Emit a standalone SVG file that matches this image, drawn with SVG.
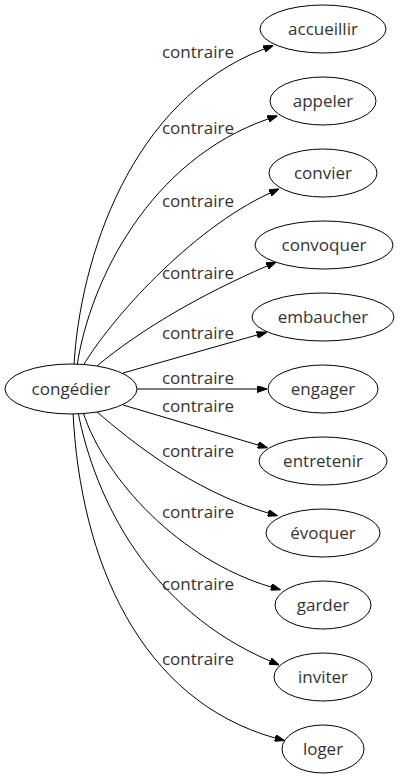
<svg xmlns="http://www.w3.org/2000/svg" width="400" height="779" viewBox="0 0 400 779">
<defs>
<style>
.node ellipse{fill:#fff;stroke:#000;stroke-width:1}
text{font-family:"Open Sans","DejaVu Sans",sans-serif;font-size:17px;fill:#333;text-anchor:middle}
.edges path{fill:none;stroke:#000;stroke-width:1;marker-end:url(#ah)}
</style>
<marker id="ah" viewBox="0 0 10 7" refX="0" refY="3.5" markerWidth="10" markerHeight="7" markerUnits="userSpaceOnUse" orient="auto">
<path d="M0,0 L10,3.5 L0,7 Z" fill="#000" stroke="#000"/>
</marker>
</defs>
<rect width="400" height="779" fill="#fff"/>
<g class="edges">
<path d="M74,365 C80,260 130,100 264,49"/>
<path d="M77,366 C90,280 150,160 268,119"/>
<path d="M83,366 C110,320 190,230 270,193"/>
<path d="M97,366 C140,330 200,295 267,266"/>
<path d="M123,373 L257,335"/>
<path d="M137,389 L257,389"/>
<path d="M123,405 L258,445"/>
<path d="M97,412 C130,440 190,490 268,513"/>
<path d="M83,412 C105,480 180,560 271,587"/>
<path d="M78,412 C95,500 150,610 270,661"/>
<path d="M73,412 C80,560 140,700 275,738"/>
<text x="198" y="58">contraire</text>
<text x="198" y="134">contraire</text>
<text x="198" y="207">contraire</text>
<text x="198" y="279">contraire</text>
<text x="198" y="339">contraire</text>
<text x="198" y="384">contraire</text>
<text x="198" y="412">contraire</text>
<text x="198" y="457">contraire</text>
<text x="198" y="518">contraire</text>
<text x="198" y="590">contraire</text>
<text x="198" y="665">contraire</text>
</g>
<g id="n0" class="node"><ellipse cx="71" cy="389" rx="66" ry="25"/><text x="71" y="395">congédier</text></g>
<g id="n1" class="node"><ellipse cx="323" cy="29" rx="63" ry="24"/><text x="323" y="35">accueillir</text></g>
<g id="n2" class="node"><ellipse cx="323" cy="101" rx="53" ry="24"/><text x="323" y="107">appeler</text></g>
<g id="n3" class="node"><ellipse cx="323" cy="173" rx="54" ry="24"/><text x="323" y="179">convier</text></g>
<g id="n4" class="node"><ellipse cx="324" cy="245" rx="69" ry="24"/><text x="324" y="251">convoquer</text></g>
<g id="n5" class="node"><ellipse cx="323" cy="317" rx="71" ry="24"/><text x="323" y="323">embaucher</text></g>
<g id="n6" class="node"><ellipse cx="323" cy="389" rx="55" ry="24"/><text x="323" y="395">engager</text></g>
<g id="n7" class="node"><ellipse cx="323" cy="461" rx="64" ry="24"/><text x="323" y="467">entretenir</text></g>
<g id="n8" class="node"><ellipse cx="323" cy="533" rx="57" ry="24"/><text x="323" y="539">évoquer</text></g>
<g id="n9" class="node"><ellipse cx="323" cy="605" rx="48" ry="24"/><text x="323" y="611">garder</text></g>
<g id="n10" class="node"><ellipse cx="323" cy="677" rx="49" ry="24"/><text x="323" y="683">inviter</text></g>
<g id="n11" class="node"><ellipse cx="323" cy="749" rx="41" ry="24"/><text x="323" y="755">loger</text></g>
</svg>
